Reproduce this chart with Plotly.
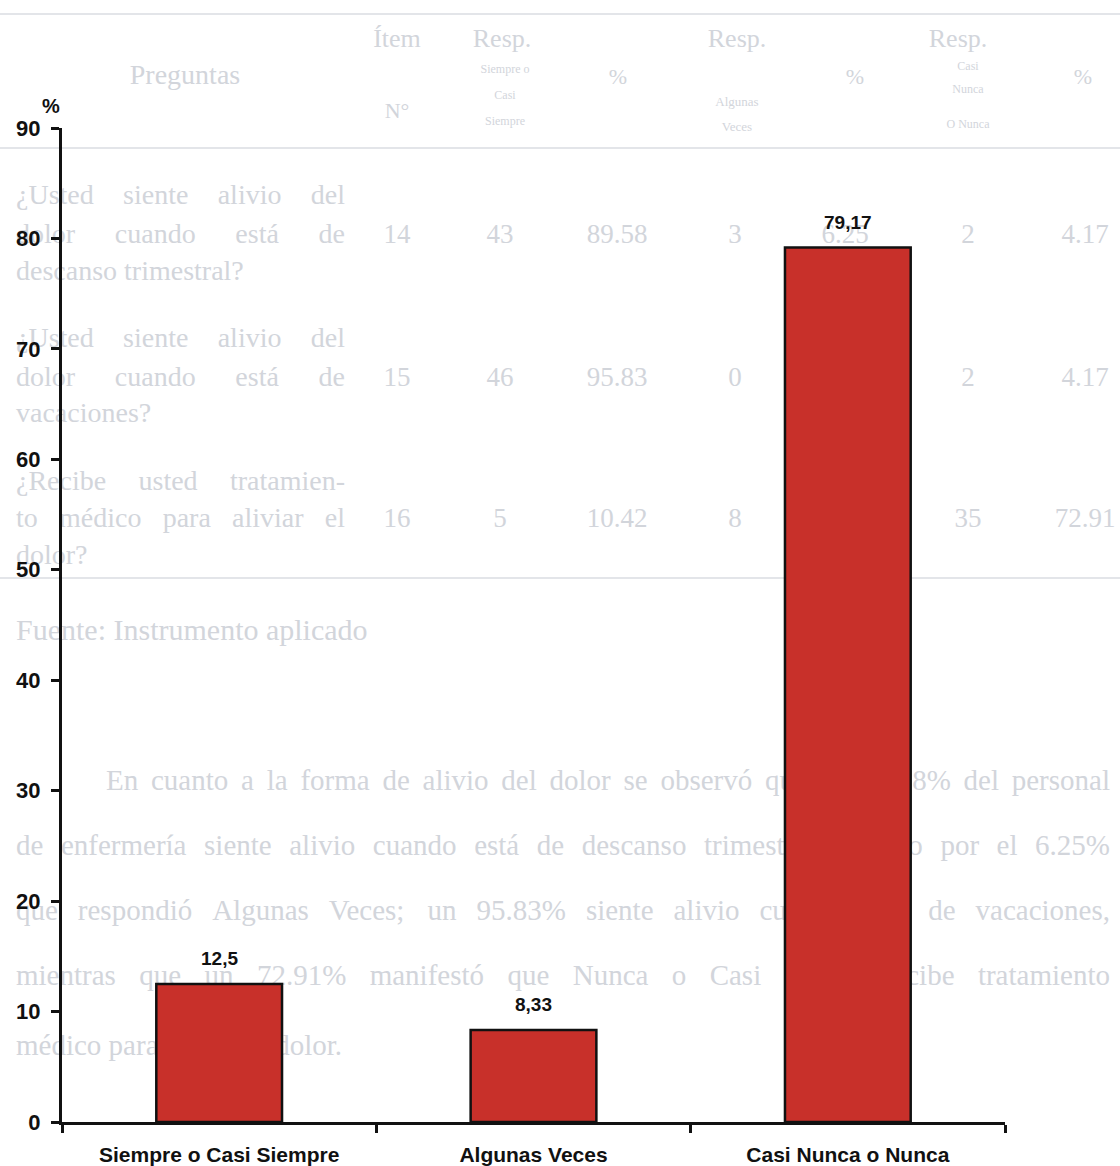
import plotly.graph_objects as go

# Chart data
categories = ["Siempre o Casi Siempre", "Algunas Veces", "Casi Nunca o Nunca"]
percentages = [12.5, 8.33, 79.17]
y_ticks = [0, 10, 20, 30, 40, 50, 60, 70, 80, 90]

W, H = 1120, 1166
PLOT_LEFT, PLOT_RIGHT = 62, 1005
PLOT_TOP, PLOT_BOTTOM = 128, 1122

BAR_RED = "#c8302a"
INK = "#111111"
FAINT = "#d2d5db"
SANS = "Liberation Sans, Arial, sans-serif"
SERIF = "Liberation Serif, Times New Roman, serif"

# Faint print from the page beneath the chart
L, C = "middle right", "middle center"
page_labels = [  # (x px, y px, text, size)
    (185, 77, "Preguntas", 28),
    (397, 40, "Ítem", 26),
    (397, 112, "N°", 22),
    (502, 40, "Resp.", 26),
    (505, 70, "Siempre o", 12),
    (505, 96, "Casi", 12),
    (505, 122, "Siempre", 12),
    (618, 78, "%", 22),
    (737, 40, "Resp.", 26),
    (737, 103, "Algunas", 13),
    (737, 128, "Veces", 13),
    (855, 78, "%", 22),
    (958, 40, "Resp.", 26),
    (968, 67, "Casi", 12),
    (968, 90, "Nunca", 12),
    (968, 125, "O Nunca", 12),
    (1083, 78, "%", 22),
]
page_lines = [  # (x start, x end or None, y px, text, size)
    (16, 345, 197, "¿Usted siente alivio del", 28),
    (16, 345, 236, "dolor cuando está de", 28),
    (16, None, 273, "descanso trimestral?", 28),
    (16, 345, 340, "¿Usted siente alivio del", 28),
    (16, 345, 379, "dolor cuando está de", 28),
    (16, None, 415, "vacaciones?", 28),
    (16, 345, 483, "¿Recibe usted tratamien-", 28),
    (16, 345, 520, "to médico para aliviar el", 28),
    (16, None, 557, "dolor?", 28),
    (16, None, 632, "Fuente: Instrumento aplicado", 30),
    (106, 1110, 783, "En cuanto a la forma de alivio del dolor se observó que un 89.58% del personal", 29),
    (16, 1110, 848, "de enfermería siente alivio cuando está de descanso trimestral seguido por el 6.25%", 29),
    (16, 1110, 913, "que respondió Algunas Veces; un 95.83% siente alivio cuando está de vacaciones,", 29),
    (16, 1110, 978, "mientras que un 72.91% manifestó que Nunca o Casi Nunca recibe tratamiento", 29),
    (16, None, 1048, "médico para aliviar el dolor.", 29),
]
table_cols = [397, 500, 617, 735, 845, 968, 1085]
table_rows = [
    (236, ["14", "43", "89.58", "3", "6.25", "2", "4.17"]),
    (379, ["15", "46", "95.83", "0", "0.00", "2", "4.17"]),
    (520, ["16", "5", "10.42", "8", "16.67", "35", "72.91"]),
]
rule_lines_y = [14, 148, 578]

# Approximate serif advance widths (em/1000) for spacing justified lines
SERIF_W = {
    "a": 444, "b": 500, "c": 444, "d": 500, "e": 444, "f": 333, "g": 500, "h": 500,
    "i": 278, "j": 278, "k": 500, "l": 278, "m": 778, "n": 500, "o": 500, "p": 500,
    "q": 500, "r": 333, "s": 389, "t": 278, "u": 500, "v": 500, "w": 722, "x": 500,
    "y": 500, "z": 444, "á": 444, "é": 444, "í": 278, "ó": 500, "ú": 500,
    ".": 250, ",": 250, ";": 278, ":": 278, "%": 833, "?": 444, "¿": 444, "-": 333,
    "A": 722, "C": 667, "E": 611, "F": 556, "I": 333, "N": 722, "R": 667, "U": 722, "V": 722,
    " ": 250,
}


def word_width(word, size):
    return sum(SERIF_W.get(ch, 500) for ch in word) * size / 1000.0


xs, ys, texts, sizes, positions = [], [], [], [], []
for x, y, t, s in page_labels:
    xs.append(x); ys.append(y); texts.append(t); sizes.append(s); positions.append(C)
for row_y, cells in table_rows:
    for cx, cell in zip(table_cols, cells):
        xs.append(cx); ys.append(row_y); texts.append(cell); sizes.append(27); positions.append(C)
for x0, x1, y, t, s in page_lines:
    if x1 is None:
        # ragged last line: one text run
        xs.append(x0); ys.append(y); texts.append(t); sizes.append(s); positions.append(L)
        continue
    words = t.split(" ")
    widths = [word_width(w, s) for w in words]
    gap = (x1 - x0 - sum(widths)) / (len(words) - 1)
    cur = x0
    for w, ww in zip(words, widths):
        xs.append(cur); ys.append(y); texts.append(w); sizes.append(s); positions.append(L)
        cur += ww + gap

fig = go.Figure()

# Background print on a full-page pixel subplot, drawn beneath the chart subplot
fig.add_trace(go.Scatter(
    x=xs, y=ys, text=texts,
    mode="text",
    textposition=positions,
    textfont=dict(family=SERIF, size=sizes, color=FAINT),
    cliponaxis=False,
    hoverinfo="skip",
    showlegend=False,
    xaxis="x", yaxis="y",
))
for ly in rule_lines_y:
    fig.add_trace(go.Scatter(
        x=[0, W], y=[ly, ly], mode="lines",
        line=dict(color="#e3e5e9", width=2),
        hoverinfo="skip", showlegend=False,
        xaxis="x", yaxis="y",
    ))

# Bars on the chart subplot
fig.add_trace(go.Bar(
    x=categories,
    y=percentages,
    width=0.4,
    marker=dict(color=BAR_RED, line=dict(color=INK, width=2.5)),
    hoverinfo="x+y",
    showlegend=False,
    xaxis="x2", yaxis="y2",
))

# Value labels above each bar
for cat, val in zip(categories, percentages):
    fig.add_annotation(
        x=cat, y=val, xref="x2", yref="y2",
        text=f"{val:g}".replace(".", ","),
        showarrow=False, yanchor="bottom", yshift=13,
        font=dict(family=SANS, size=19, color=INK, weight="bold"),
    )

# Axis unit label
fig.add_annotation(
    x=51 / W, y=1 - 106 / H, xref="paper", yref="paper",
    text="%", showarrow=False, xanchor="center", yanchor="middle",
    font=dict(family=SANS, size=20, color=INK, weight="bold"),
)

x_dom = [PLOT_LEFT / W, PLOT_RIGHT / W]
y_dom = [1 - PLOT_BOTTOM / H, 1 - PLOT_TOP / H]

fig.update_layout(
    width=W, height=H,
    margin=dict(l=0, r=0, t=0, b=0, autoexpand=False),
    paper_bgcolor="white",
    plot_bgcolor="rgba(0,0,0,0)",
    xaxis=dict(domain=[0, 1], range=[0, W], visible=False, fixedrange=True),
    yaxis=dict(domain=[0, 1], range=[H, 0], visible=False, fixedrange=True),
    xaxis2=dict(
        domain=x_dom, anchor="y2", side="bottom",
        type="category", range=[-0.5, 2.5],
        showline=True, linecolor=INK, linewidth=3,
        ticks="outside", tickson="boundaries", ticklen=8, tickwidth=3, tickcolor=INK,
        showgrid=False, zeroline=False, automargin=False,
        ticklabelstandoff=12,
        tickfont=dict(family=SANS, size=21, color=INK, weight="bold"),
    ),
    yaxis2=dict(
        domain=y_dom, anchor="x2", side="left",
        range=[0, 90], tickvals=y_ticks,
        showline=True, linecolor=INK, linewidth=3,
        ticks="outside", ticklen=8, tickwidth=3, tickcolor=INK,
        showgrid=False, zeroline=False, automargin=False,
        ticklabelstandoff=6,
        tickfont=dict(family=SANS, size=22, color=INK, weight="bold"),
    ),
)

fig.write_html("out.html")
